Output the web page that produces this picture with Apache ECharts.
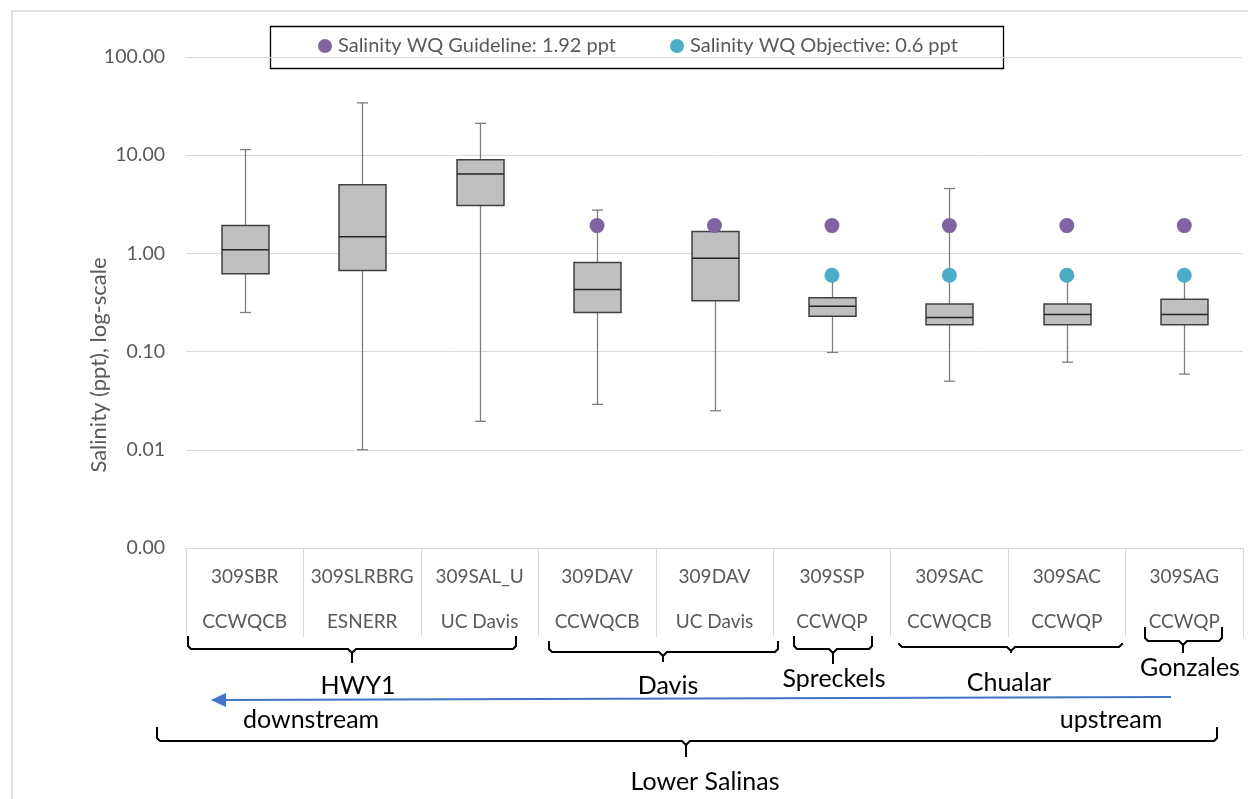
<!DOCTYPE html>
<html>
<head>
<meta charset="utf-8">
<script src="https://cdn.jsdelivr.net/npm/echarts@6/dist/echarts.min.js"></script>
<style>
  html, body { margin: 0; padding: 0; background: #fff; }
  #container { width: 1248px; height: 799px; }
</style>
</head>
<body>
<div id="container"></div>
<script>
// stations and agencies (two-line category labels)
var stations = ['309SBR', '309SLRBRG', '309SAL_U', '309DAV', '309DAV', '309SSP', '309SAC', '309SAC', '309SAG'];
var agencies = ['CCWQCB', 'ESNERR', 'UC Davis', 'CCWQCB', 'UC Davis', 'CCWQP', 'CCWQCB', 'CCWQP', 'CCWQP'];

// box statistics, ppt
var mins    = [0.25, 0.010, 0.0195, 0.029, 0.025, 0.098, 0.050, 0.078, 0.059];
var q1s     = [0.62, 0.67, 3.07, 0.25, 0.33, 0.229, 0.188, 0.188, 0.188];
var medians = [1.09, 1.48, 6.43, 0.43, 0.89, 0.289, 0.223, 0.238, 0.238];
var q3s     = [1.92, 5.0, 9.0, 0.81, 1.67, 0.354, 0.305, 0.305, 0.341];
var maxs    = [11.4, 34.1, 21.1, 2.76, 1.90, 0.58, 4.58, 0.58, 0.58];

// water quality thresholds (null = not shown)
var guideline = [null, null, null, 1.92, 1.92, 1.92, 1.92, 1.92, 1.92];
var objective = [null, null, null, null, null, 0.6, 0.6, 0.6, 0.6];

var yTicks = [0.001, 0.01, 0.1, 1, 10, 100];

var FONT = 'Lato, "Noto Sans", sans-serif';
var GREY = '#595959';

var boxData = stations.map(function (s, i) {
    return [i, mins[i], q1s[i], medians[i], q3s[i], maxs[i]];
});

function toPoints(arr) {
    return arr.map(function (v, i) { return v == null ? [i, '-'] : [i, v]; });
}

function renderBox(params, api) {
    var x = api.value(0);
    var lo = api.coord([x, api.value(1)]);
    var q1 = api.coord([x, api.value(2)]);
    var md = api.coord([x, api.value(3)]);
    var q3 = api.coord([x, api.value(4)]);
    var hi = api.coord([x, api.value(5)]);
    var band = api.size([1, 1])[0];
    var bw = band * 0.4;
    var cw = 11;
    var cx = Math.round(lo[0]) + 0.5;
    var whisker = { stroke: '#7f7f7f', lineWidth: 1.3 };
    return {
        type: 'group',
        children: [
            { type: 'line', shape: { x1: cx, y1: lo[1], x2: cx, y2: hi[1] }, style: whisker },
            { type: 'line', shape: { x1: cx - cw / 2, y1: lo[1], x2: cx + cw / 2, y2: lo[1] }, style: whisker },
            { type: 'line', shape: { x1: cx - cw / 2, y1: hi[1], x2: cx + cw / 2, y2: hi[1] }, style: whisker },
            { type: 'rect', shape: { x: cx - bw / 2, y: q3[1], width: bw, height: q1[1] - q3[1] },
              style: { fill: '#bfbfbf', stroke: '#404040', lineWidth: 1.5 } },
            { type: 'line', shape: { x1: cx - bw / 2, y1: md[1], x2: cx + bw / 2, y2: md[1] },
              style: { stroke: '#262626', lineWidth: 1.5 } }
        ]
    };
}

var braceStyle = { stroke: '#000', lineWidth: 2, fill: null };
var noteStyle = { fill: '#000', font: '25px ' + FONT, align: 'center', verticalAlign: 'middle' };

function note(text, x, y) {
    return { type: 'text', x: x, y: y, style: Object.assign({ text: text }, noteStyle) };
}
// curly-ish bracket: ends up at "top", bar at "h", pip down to "bottom" at c
function bracket(l, r, c, top, h, bottom) {
    var pts = [[l, top], [l, h - 3], [l + 3, h], [c - 4, h], [c, h + 4], [c, bottom],
               [c, h + 4], [c + 4, h], [r - 3, h], [r, h - 3], [r, top]];
    return { type: 'polyline', shape: { points: pts }, style: braceStyle };
}

var chart = echarts.init(document.getElementById('container'));

chart.setOption({
    animation: false,
    backgroundColor: '#fff',
    grid: { left: 186, right: 5, top: 57, bottom: 251, containLabel: false },
    legend: {
        left: 318, top: 36, padding: 0,
        itemWidth: 14, itemHeight: 14, itemGap: 54,
        icon: 'circle',
        textStyle: { color: GREY, fontSize: 20, fontFamily: FONT, padding: [0, 0, 0, 1] },
        data: ['Salinity WQ Guideline: 1.92 ppt', 'Salinity WQ Objective: 0.6 ppt']
    },
    xAxis: {
        type: 'category',
        data: stations,
        axisLine: { lineStyle: { color: '#d9d9d9' } },
        axisTick: { show: true, length: 89, lineStyle: { color: '#d9d9d9' } },
        axisLabel: {
            interval: 0,
            margin: 6,
            color: GREY,
            fontFamily: FONT,
            fontSize: 19,
            lineHeight: 45,
            formatter: function (v, i) { return v + '\n' + agencies[i]; }
        },
        splitLine: { show: false }
    },
    yAxis: {
        type: 'log',
        logBase: 10,
        min: yTicks[0],
        max: yTicks[yTicks.length - 1],
        axisLine: { show: false },
        axisTick: { show: false },
        axisLabel: {
            margin: 21,
            color: GREY,
            fontFamily: FONT,
            fontSize: 19.5,
            formatter: function (v) { return Number(v).toFixed(2); }
        },
        splitLine: { lineStyle: { color: '#d9d9d9', width: 1 } }
    },
    series: [
        {
            name: 'box',
            type: 'custom',
            renderItem: renderBox,
            encode: { x: 0, y: [1, 2, 3, 4, 5] },
            data: boxData,
            z: 2
        },
        {
            name: 'Salinity WQ Guideline: 1.92 ppt',
            type: 'scatter',
            symbol: 'circle',
            symbolSize: 15,
            itemStyle: { color: '#8064a2', opacity: 1 },
            data: toPoints(guideline),
            z: 3
        },
        {
            name: 'Salinity WQ Objective: 0.6 ppt',
            type: 'scatter',
            symbol: 'circle',
            symbolSize: 15,
            itemStyle: { color: '#4bacc6', opacity: 1 },
            data: toPoints(objective),
            z: 3
        }
    ],
    graphic: [
        // outer chart border
        { type: 'rect', shape: { x: 12, y: 11, width: 1260, height: 820 },
          style: { fill: null, stroke: '#d9d9d9', lineWidth: 1.5 }, z: -1 },
        // legend box
        { type: 'rect', shape: { x: 270.5, y: 26.5, width: 733, height: 42 },
          style: { fill: null, stroke: '#000', lineWidth: 1.3 } },
        // y axis title
        { type: 'text', x: 99, y: 365, rotation: Math.PI / 2,
          style: { text: 'Salinity (ppt), log-scale', fill: GREY, font: '22px ' + FONT,
                   align: 'center', verticalAlign: 'middle' } },
        // site group brackets
        bracket(188, 516, 352, 636, 649, 663),
        note('HWY1', 358, 686),
        bracket(549, 778, 663, 641, 652, 662),
        note('Davis', 668, 686),
        bracket(794, 872, 833, 636, 649, 664),
        note('Spreckels', 834, 679),
        bracket(899, 1122, 1011, 643, 647, 653),
        note('Chualar', 1009, 683),
        bracket(1145, 1222, 1183, 627, 641, 653),
        note('Gonzales', 1190, 668),
        // flow direction arrow
        { type: 'line', shape: { x1: 1171, y1: 697, x2: 222, y2: 700 },
          style: { stroke: '#4472c4', lineWidth: 2 } },
        { type: 'polygon', shape: { points: [[211, 700], [226, 693], [226, 707]] },
          style: { fill: '#4472c4' } },
        { type: 'text', x: 243, y: 720, style: { text: 'downstream', fill: '#000', font: '25px ' + FONT,
          align: 'left', verticalAlign: 'middle' } },
        note('upstream', 1111, 720),
        // whole reach bracket
        bracket(157, 1217, 686, 727, 741, 757),
        note('Lower Salinas', 705, 782)
    ]
});
</script>
</body>
</html>
